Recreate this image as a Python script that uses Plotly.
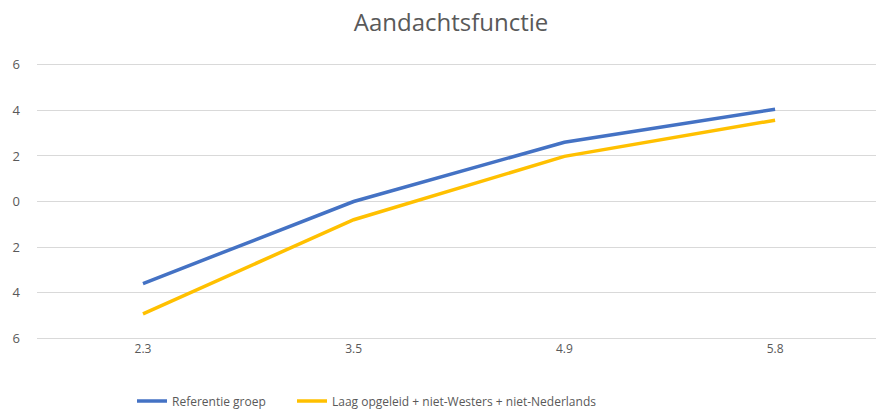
import plotly.graph_objects as go

categories = ["2.3", "3.5", "4.9", "5.8"]
referentie = [-3.6, 0.0, 2.6, 4.05]
laag = [-4.93, -0.8, 1.98, 3.57]
y_tickvals = [-6, -4, -2, 0, 2, 4, 6]
y_ticktext = ["6", "4", "2", "0", "2", "4", "6"]

FONT = "Open Sans"
GRAY = "#595959"

fig = go.Figure()
fig.add_trace(go.Scatter(x=categories, y=referentie, mode="lines", name="Referentie groep",
                         line=dict(color="#4472C4", width=3.5), legend="legend"))
fig.add_trace(go.Scatter(x=categories, y=laag, mode="lines",
                         name="Laag opgeleid + niet-Westers + niet-Nederlands",
                         line=dict(color="#FFC000", width=3.5), legend="legend2"))

legend_common = dict(orientation="h", xanchor="left",
                     y=-(401 - 340) / 277, yanchor="middle",
                     font=dict(family=FONT, size=12, color=GRAY),
                     itemwidth=30, bgcolor="rgba(0,0,0,0)")

fig.update_layout(
    width=876, height=410,
    margin=dict(l=37, r=0, t=63, b=70, autoexpand=False),
    paper_bgcolor="white", plot_bgcolor="white",
    title=dict(text="Aandachtsfunctie", x=451 / 876, xref="container", xanchor="center",
               y=1 - 23 / 410, yanchor="middle",
               font=dict(family=FONT, size=24, color=GRAY)),
    font=dict(family=FONT, color=GRAY, size=12),
    showlegend=True,
    legend=dict(x=(132 - 37) / 839, **legend_common),
    legend2=dict(x=(292 - 37) / 839, **legend_common),
    xaxis=dict(type="category", range=[-0.503, 3.479], showgrid=False, zeroline=False,
               showline=False, ticks="", automargin=False,
               tickfont=dict(family=FONT, size=12, color=GRAY)),
    yaxis=dict(range=[-6.08, 6.08], tickvals=y_tickvals, ticktext=y_ticktext,
               showgrid=True, gridcolor="#D9D9D9", gridwidth=1,
               zeroline=True, zerolinecolor="#D9D9D9", zerolinewidth=1,
               showline=False, ticks="", ticklabelstandoff=16, automargin=False,
               tickfont=dict(family=FONT, size=13, color=GRAY)),
)

fig.write_html("out.html", config={"displayModeBar": False},
               post_script="document.body.style.margin='0';")
